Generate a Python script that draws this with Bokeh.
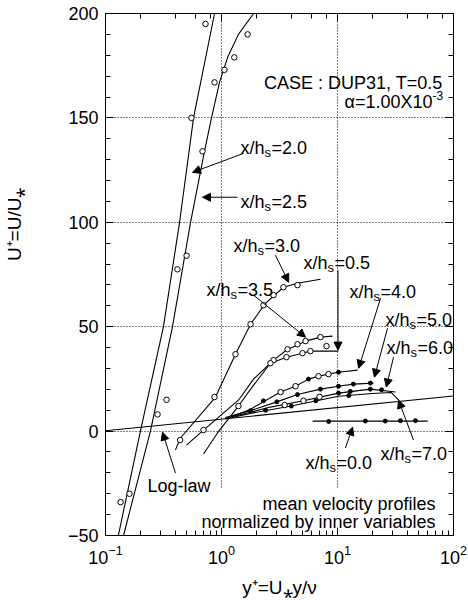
from bokeh.plotting import figure
from bokeh.models import (Range1d, LogAxis, LinearAxis, LogTicker, SingleIntervalTicker,
                          Label, Arrow, NormalHead, BoxAnnotation, CustomJSTickFormatter)
from bokeh.embed import file_html
from bokeh.resources import INLINE

FONT = "Liberation Sans"

# ---------------- data: (y+, U+) ----------------
c20_x = [0.129, 0.200, 0.316, 0.435, 0.574, 0.871]
c20_y = [-50, 0, 50, 100, 150, 200]
c20_mx = [0.135, 0.161, 0.417, 0.551, 0.728]
c20_my = [-34, -30, 77.5, 150, 195]

c25_x = [0.143, 0.244, 0.378, 0.541, 0.713, 0.820, 0.961, 1.13, 1.40, 1.89]
c25_y = [-50, 0, 50, 100, 134, 150, 167, 179, 190, 200]
c25_mx = [0.281, 0.336, 0.50, 0.686, 0.871, 1.06, 1.29, 1.68]
c25_my = [8, 15, 84, 134, 167, 173, 179, 190]

c30_x = [0.401, 0.443, 0.888, 1.32, 1.78, 2.39, 3.42, 4.52, 7.13]
c30_y = [-9, -3.3, 16.3, 36.8, 51.2, 61.2, 68.9, 70.8, 72.7]
c30_mx = [0.44, 0.87, 1.32, 1.78, 2.30, 2.81, 3.42, 4.52]
c30_my = [-4.3, 16.3, 36.8, 51.2, 60.3, 65.1, 68.9, 69.9]

c35_x = [0.499, 0.70, 1.40, 1.89, 2.81, 3.71, 4.52, 5.30, 7.13, 9.06]
c35_y = [-6.7, 0.5, 14.8, 24.9, 34.0, 39.2, 41.1, 43.1, 45.0, 45.5]
c35_mx = [0.70, 2.81, 3.71, 4.52, 5.30, 7.13]
c35_my = [0.5, 34.0, 39.2, 41.6, 43.1, 45.0]

c05_x = [0.70, 0.92, 1.40, 1.89, 2.64, 3.63, 4.99, 5.84, 10.2]
c05_y = [-11, -1, 12, 22, 32.5, 35.4, 37.3, 38.3, 38.3]
c05_mx = [1.40, 2.64, 3.63, 4.99, 5.84, 8.04]
c05_my = [12, 32.5, 35.4, 37.3, 38.3, 40.7]

c40_x = [1.13, 1.78, 3.23, 4.35, 5.62, 6.86, 8.36, 10.2, 14.9]
c40_y = [6.2, 10.5, 18.7, 21.5, 24.9, 26.3, 27.3, 28.2, 29.2]
c40_mx = [3.23, 4.35, 6.86, 8.36]
c40_my = [18.7, 21.5, 26.3, 27.3]
c40_dx = [2.3, 5.62, 10.2]
c40_dy = [14.5, 24.9, 28.2]

c50_x = [1.08, 1.78, 3.0, 4.52, 7.13, 10.2, 13.7, 20.4]
c50_y = [6.5, 9.8, 14.0, 17.5, 20.1, 21.5, 22.5, 23.0]
c50_dx = [1.78, 3.0, 4.52, 7.13, 10.2, 13.7, 19.2]
c50_dy = [9.8, 14.0, 17.5, 20.1, 21.5, 22.5, 23.0]

c60_x = [1.08, 1.78, 2.64, 5.09, 10.2, 19.2, 31.6]
c60_y = [6.2, 9.0, 11.5, 14.5, 18.2, 20.1, 18.7]
c60_mx = [3.5, 5.09, 7.0]
c60_my = [12.5, 14.5, 16.4]
c60_dx = [10.2, 12.9, 19.2, 24.0]
c60_dy = [18.2, 19.0, 20.1, 19.8]

c70_x = [1.08, 1.78, 4.0, 10.2, 20.0, 29.0, 34.0]
c70_y = [5.8, 8.5, 12.0, 16.7, 18.0, 18.5, 14.6]
c70_dx = [2.4, 4.0, 6.5, 12.5]
c70_dy = [10.0, 12.0, 14.5, 17.0]

c00_x = [6.1, 60.0]
c00_y = [4.8, 4.8]
c00_dx = [8.4, 17.4, 25.8, 34.9, 47.0]
c00_dy = [4.6, 4.8, 4.8, 5.0, 5.0]

loglaw_x = [0.1, 100.0]
loglaw_y = [0.2, 16.8]

# ---------------- figure ----------------
p = figure(width=468, height=600, x_axis_type="log",
           x_range=Range1d(0.1, 100), y_range=Range1d(-50, 200),
           output_backend="svg", toolbar_location=None,
           min_border_left=105, min_border_right=15,
           min_border_top=13, min_border_bottom=65)
p.background_fill_color = "white"
p.border_fill_color = "white"
p.outline_line_color = "black"

yt = SingleIntervalTicker(interval=50, num_minor_ticks=5)
p.yaxis[0].ticker = yt
p.ygrid[0].ticker = yt

for ax in [p.xaxis[0], p.yaxis[0]]:
    ax.major_tick_in = 8
    ax.major_tick_out = 0
    ax.minor_tick_in = 5
    ax.minor_tick_out = 0
    ax.axis_line_color = "black"
    ax.major_tick_line_color = "black"
    ax.minor_tick_line_color = "black"
    ax.major_label_text_font = FONT
    ax.major_label_text_font_size = "18px"
    ax.major_label_text_color = "black"
    ax.axis_label_text_font = FONT
    ax.axis_label_text_font_size = "19px"
    ax.axis_label_text_font_style = "normal"
    ax.axis_label_text_color = "black"
p.yaxis[0].major_label_standoff = 7
p.xaxis[0].major_label_standoff = 9
p.xaxis[0].axis_label = "y\u207a=U\u204ey/\u03bd"
p.xaxis[0].axis_label_standoff = 10
p.yaxis[0].axis_label = "\u00a0" * 19 + "U\u207a=U/U\u204e"
p.yaxis[0].axis_label_standoff = 40

top = LogAxis(ticker=LogTicker(), formatter=CustomJSTickFormatter(code="return ''"),
              major_tick_in=8, major_tick_out=0,
              minor_tick_in=5, minor_tick_out=0, major_label_standoff=0,
              axis_line_color="black")
right = LinearAxis(ticker=SingleIntervalTicker(interval=50, num_minor_ticks=5),
                   formatter=CustomJSTickFormatter(code="return ''"),
                   major_tick_in=8, major_tick_out=0, minor_tick_in=5, minor_tick_out=0,
                   major_label_standoff=0, axis_line_color="black")
p.add_layout(top, "above")
p.add_layout(right, "right")

for g in [p.xgrid[0], p.ygrid[0]]:
    g.grid_line_color = "black"
    g.grid_line_dash = "1 2"
    g.grid_line_width = 1

# ---------------- curves ----------------
LW = 1.1
for xs, ys in [(c20_x, c20_y), (c25_x, c25_y), (c30_x, c30_y), (c35_x, c35_y),
               (c05_x, c05_y), (c40_x, c40_y), (c50_x, c50_y), (c60_x, c60_y),
               (c70_x, c70_y), (c00_x, c00_y), (loglaw_x, loglaw_y)]:
    p.line(xs, ys, line_color="black", line_width=LW)

for xs, ys in [(c20_mx, c20_my), (c25_mx, c25_my), (c30_mx, c30_my), (c35_mx, c35_my),
               (c05_mx, c05_my), (c40_mx, c40_my), (c60_mx, c60_my)]:
    p.scatter(xs, ys, marker="circle", size=5.5, fill_color="white",
              line_color="black", line_width=1)

for xs, ys in [(c40_dx, c40_dy), (c50_dx, c50_dy), (c60_dx, c60_dy),
               (c70_dx, c70_dy), (c00_dx, c00_dy)]:
    p.scatter(xs, ys, marker="circle", size=4, fill_color="black", line_color="black")

# ---------------- white box behind bottom note ----------------
p.add_layout(BoxAnnotation(left=0.541, right=76.5, bottom=-46, top=-27.3,
                           fill_color="white", fill_alpha=1.0, line_color=None,
                           line_alpha=0, level="annotation"))

# ---------------- arrows ----------------
arrows = [
    ((1.549, 133.0), (0.562, 123.9)),
    ((1.374, 112.0), (0.686, 112.0)),
    ((2.92, 84.2), (3.79, 71.3)),
    ((1.888, 65.1), (5.30, 45.0)),
    ((10.1, 77.0), (10.1, 38.8)),
    ((23.5, 63.6), (15.2, 30.1)),
    ((27.0, 49.3), (20.8, 25.8)),
    ((30.4, 35.4), (26.4, 21.1)),
    ((45.2, -4.3), (33.6, 14.8)),
    ((11.7, -8.1), (13.5, 1.9)),
    ((0.401, -20.1), (0.31, -0.5)),
]
for (xs, ys), (xe, ye) in arrows:
    p.add_layout(Arrow(end=NormalHead(size=8, fill_color="black", line_color="black"),
                       x_start=xs, y_start=ys, x_end=xe, y_end=ye,
                       line_color="black", line_width=1))

# ---------------- labels ----------------
def txt(x, y, s, size="18px", align="left", **kw):
    p.add_layout(Label(x=x, y=y, text=s, text_font=FONT, text_font_size=size,
                       text_color="black", text_align=align,
                       text_baseline="alphabetic", **kw))

def hs_label(x, y, val):
    txt(x, y, "x/h")
    txt(x, y, "s", size="13px", x_offset=24, y_offset=-4)
    txt(x, y, "=" + val, x_offset=31)

hs_label(1.458, 135.4, "2.0")
hs_label(1.458, 109.6, "2.5")
hs_label(1.269, 88.5, "3.0")
hs_label(0.743, 67.5, "3.5")
hs_label(5.09, 80.4, "0.5")
hs_label(12.7, 66.5, "4.0")
hs_label(25.9, 53.1, "5.0")
hs_label(26.4, 39.7, "6.0")
hs_label(23.5, -11.0, "7.0")
hs_label(5.30, -15.3, "0.0")

txt(0.230, -26.3, "Log-law")
txt(80.4, 166.5, "CASE : DUP31, T=0.5", align="right")
txt(65.9, 157.4, "\u03b1=1.00X10", align="right")
txt(65.9, 157.4, "-3", size="12px", y_offset=7)
txt(70.0, -34.9, "mean velocity profiles", align="right")
txt(70.0, -43.5, "normalized by inner variables", align="right")

open("out.html", "w").write(file_html(p, INLINE))
